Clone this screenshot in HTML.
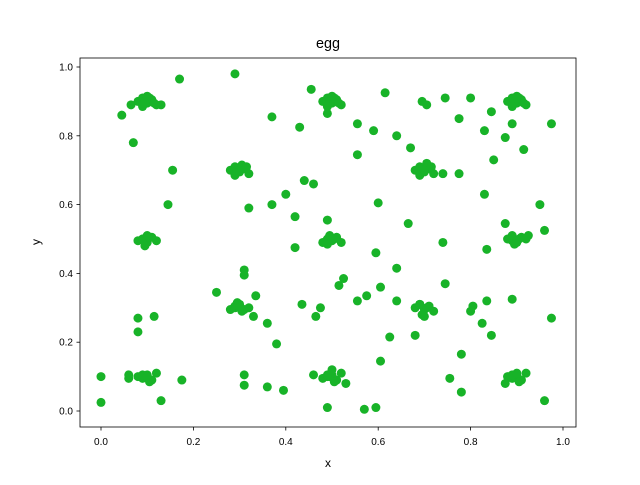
<!DOCTYPE html>
<html><head><meta charset="utf-8"><style>
body{margin:0;background:#fff}
svg text{font-family:"Liberation Sans","DejaVu Sans",sans-serif;fill:#000}
</style></head><body>
<svg id="chart" width="640" height="480" viewBox="0 0 640 480" xmlns="http://www.w3.org/2000/svg">
<rect width="640" height="480" fill="#fff"/>
<text x="328" y="48" font-size="14.4" text-anchor="middle">egg</text>
<g id="marks"></g>
<g id="axes"></g>
<rect x="80" y="58" width="496" height="369" fill="none" stroke="#000" stroke-width="0.8"/>
<text x="328" y="467" font-size="12" text-anchor="middle">x</text>
<text x="40" y="242" font-size="12" text-anchor="middle" transform="rotate(-90 40 242)">y</text>
</svg>
<script>
const xTicks=[0,0.2,0.4,0.6,0.8,1.0];
const yTicks=[0,0.2,0.4,0.6,0.8,1.0];
const tickLabels=["0.0","0.2","0.4","0.6","0.8","1.0"];
const xs=[
0.08,0.09,0.10,0.11,0.12,0.095,0.105,0.09,0.10,0.115,
0.28,0.29,0.30,0.31,0.32,0.295,0.305,0.29,0.30,0.315,
0.48,0.49,0.50,0.51,0.52,0.495,0.505,0.49,0.50,0.515,
0.68,0.69,0.70,0.71,0.72,0.695,0.705,0.69,0.70,0.715,
0.88,0.89,0.90,0.91,0.92,0.895,0.905,0.89,0.90,0.915,
0.08,0.09,0.10,0.11,0.12,0.095,0.105,0.09,0.10,
0.48,0.49,0.50,0.51,0.52,0.495,0.505,0.49,0.50,
0.88,0.89,0.90,0.91,0.92,0.895,0.905,0.89,0.90,
0.28,0.29,0.30,0.31,0.32,0.295,0.305,0.29,0.30,
0.68,0.69,0.70,0.71,0.72,0.695,0.705,0.69,0.70,
0.08,0.09,0.10,0.11,0.12,0.095,0.105,0.09,0.10,
0.48,0.49,0.50,0.51,0.52,0.495,0.505,0.49,0.50,
0.88,0.89,0.90,0.91,0.92,0.895,0.905,0.89,0.90,
0.045,0.065,0.07,0.17,0.155,0.145,0.13,0.29,0.37,0.43,0.455,0.46,0.44,0.32,0.37,0.40,0.42,0.42,0.49,0.49,
0.555,0.555,0.59,0.615,0.64,0.67,0.695,0.705,0.745,0.775,0.80,0.83,0.845,0.85,0.875,0.89,0.915,0.975,0.74,0.775,
0.83,0.875,0.835,0.95,0.96,0.925,0.6,0.595,0.665,0.74,0.64,0.605,0.515,0.525,0.555,0.575,0.625,0.64,0.68,0.745,
0.80,0.805,0.835,0.845,0.89,0.975,0.78,0.78,0.755,0.605,0.57,0.595,0.49,0.53,0.46,0.465,0.475,0.435,0.38,0.36,
0.36,0.395,0.31,0.31,0.25,0.31,0.31,0.335,0.33,0.0,0.0,0.06,0.06,0.08,0.08,0.115,0.13,0.175,0.875,0.96,0.825];
const ys=[
0.90,0.91,0.895,0.905,0.89,0.90,0.91,0.885,0.915,0.895,
0.70,0.71,0.695,0.705,0.69,0.70,0.715,0.685,0.70,0.71,
0.90,0.91,0.895,0.905,0.89,0.90,0.91,0.885,0.915,0.895,
0.70,0.71,0.695,0.705,0.69,0.70,0.72,0.685,0.70,0.71,
0.90,0.91,0.895,0.905,0.89,0.90,0.91,0.885,0.915,0.895,
0.495,0.50,0.49,0.505,0.495,0.48,0.505,0.50,0.51,
0.49,0.50,0.495,0.505,0.49,0.51,0.50,0.485,0.50,
0.50,0.495,0.49,0.505,0.50,0.485,0.50,0.51,0.495,
0.295,0.30,0.31,0.295,0.30,0.315,0.29,0.305,0.30,
0.30,0.31,0.295,0.305,0.29,0.28,0.30,0.31,0.275,
0.10,0.095,0.105,0.09,0.11,0.10,0.085,0.105,0.10,
0.095,0.10,0.105,0.09,0.11,0.10,0.085,0.105,0.12,
0.10,0.095,0.105,0.09,0.11,0.10,0.085,0.105,0.11,
0.86,0.89,0.78,0.965,0.70,0.60,0.89,0.98,0.855,0.825,0.935,0.66,0.67,0.59,0.60,0.63,0.565,0.475,0.555,0.865,
0.835,0.745,0.815,0.925,0.80,0.765,0.90,0.89,0.91,0.85,0.91,0.815,0.87,0.73,0.795,0.835,0.76,0.835,0.69,0.69,
0.63,0.545,0.47,0.60,0.525,0.51,0.605,0.46,0.545,0.49,0.415,0.36,0.365,0.385,0.32,0.335,0.215,0.32,0.22,0.37,
0.29,0.305,0.32,0.22,0.325,0.27,0.165,0.055,0.095,0.145,0.005,0.01,0.01,0.08,0.105,0.275,0.30,0.31,0.195,0.255,
0.07,0.06,0.075,0.105,0.345,0.395,0.41,0.335,0.275,0.1,0.025,0.095,0.105,0.27,0.23,0.275,0.03,0.09,0.08,0.03,0.255];
const NS="http://www.w3.org/2000/svg";
function xPos(v){return 101+v*462;}
function yPos(v){return 411-v*344;}
const marks=document.getElementById('marks');
for(let i=0;i<xs.length;i++){
  const c=document.createElementNS(NS,'circle');
  c.setAttribute('cx',xPos(xs[i]));c.setAttribute('cy',yPos(ys[i]));c.setAttribute('r',4.5);
  c.setAttribute('fill','#18b328');
  
  
  marks.appendChild(c);
}
const axes=document.getElementById('axes');
xTicks.forEach((t,i)=>{
  const l=document.createElementNS(NS,'line');
  l.setAttribute('x1',xPos(t));l.setAttribute('x2',xPos(t));l.setAttribute('y1',427);l.setAttribute('y2',430.5);l.setAttribute('stroke','#000');l.setAttribute('stroke-width',0.8);
  
  
  axes.appendChild(l);
  const tx=document.createElementNS(NS,'text');
  tx.setAttribute('x',xPos(t));tx.setAttribute('y',445);tx.setAttribute('font-size','10');tx.setAttribute('text-anchor','middle');
  tx.textContent=tickLabels[i];
  
  
  axes.appendChild(tx);
});
yTicks.forEach((t,i)=>{
  const l=document.createElementNS(NS,'line');
  l.setAttribute('x1',76.5);l.setAttribute('x2',80);l.setAttribute('y1',yPos(t));l.setAttribute('y2',yPos(t));l.setAttribute('stroke','#000');l.setAttribute('stroke-width',0.8);
  
  
  axes.appendChild(l);
  const tx=document.createElementNS(NS,'text');
  tx.setAttribute('x',73);tx.setAttribute('y',yPos(t)+3.5);tx.setAttribute('font-size','10');tx.setAttribute('text-anchor','end');
  tx.textContent=tickLabels[i];
  
  
  axes.appendChild(tx);
});
</script>
</body></html>
